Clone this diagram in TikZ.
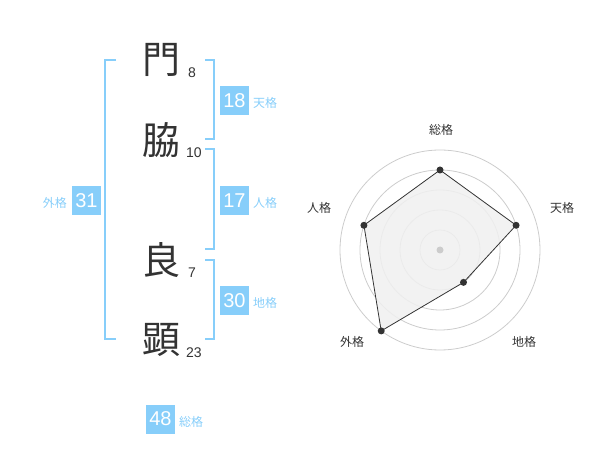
\documentclass[tikz,border=0pt]{standalone}
\usepackage{fontspec}
\setmainfont{Liberation Sans}
\newfontfamily\cjk{Noto Sans CJK JP}
\definecolor{sky}{HTML}{87CEFA}
\definecolor{ink}{HTML}{333333}
\definecolor{ring}{HTML}{CCCCCC}
\definecolor{area}{HTML}{F0F0F0}
\begin{document}
\begin{tikzpicture}[x=1pt,y=-1pt,
  bigchar/.style={font=\cjk\fontsize{38}{40}\selectfont, text=ink, inner sep=0pt},
  stroke/.style={font=\fontsize{14}{16}\selectfont, text=ink, inner sep=0pt, anchor=base west},
  numbox/.style={fill=sky, text=white, minimum width=29pt, minimum height=29pt, inner sep=0pt, font=\fontsize{20}{22}\selectfont},
  kaku/.style={font=\cjk\fontsize{12}{14}\selectfont, text=sky, inner sep=0pt},
  axislabel/.style={font=\cjk\fontsize{12}{14}\selectfont, text=ink, inner sep=0pt},
  bracket/.style={draw=sky, line width=2pt},
  dot/.style={circle, fill=ink, inner sep=0pt, minimum size=7pt}]
\useasboundingbox (0,0) rectangle (600,470);
% characters
\node[bigchar] (c1) at (161,60) {門};
\node[bigchar] (c2) at (161,140) {脇};
\node[bigchar] (c3) at (161,260) {良};
\node[bigchar] (c4) at (161,340) {顕};
\node[stroke] (s1) at (188,78) {8};
\node[stroke] (s2) at (186,158) {10};
\node[stroke] (s3) at (188,278) {7};
\node[stroke] (s4) at (186,358) {23};
% brackets
\coordinate (la) at (116,60); \coordinate (lb) at (116,339);
\draw[bracket] (la) -- ++(-11,0) |- (lb);
\coordinate (r1a) at (205,60); \coordinate (r1b) at (205,139);
\draw[bracket] (r1a) -- ++(9,0) |- (r1b);
\coordinate (r2a) at (205,149); \coordinate (r2b) at (205,249);
\draw[bracket] (r2a) -- ++(9,0) |- (r2b);
\coordinate (r3a) at (205,260); \coordinate (r3b) at (205,339);
\draw[bracket] (r3a) -- ++(9,0) |- (r3b);
% boxes
\node[numbox] (b18) at (234.5,100.5) {18};
\node[kaku, anchor=west] (k18) at (253,103) {天格};
\node[numbox] (b17) at (234.5,200.5) {17};
\node[kaku, anchor=west] (k17) at (253,203) {人格};
\node[numbox] (b30) at (234.5,300.5) {30};
\node[kaku, anchor=west] (k30) at (253,303) {地格};
\node[numbox] (b31) at (86.5,200.5) {31};
\node[kaku, anchor=east] (k31) at (67,203) {外格};
\node[numbox] (b48) at (160.5,419) {48};
\node[kaku, anchor=west] (k48) at (179,422) {総格};
% radar
\coordinate (o) at (440,250);
\foreach \r in {20,40,60,80,100} \draw[ring, line width=0.8pt] (o) circle[radius=\r];
\coordinate (p1) at (440,170);
\coordinate (p2) at (516.08,225.28);
\coordinate (p3) at (463.51,282.36);
\coordinate (p4) at (381.22,330.90);
\coordinate (p5) at (363.92,225.28);
\fill[area, opacity=0.85] (p1) -- (p2) -- (p3) -- (p4) -- (p5) -- cycle;
\draw[ink, line width=0.8pt] (p1) -- (p2) -- (p3) -- (p4) -- (p5) -- cycle;
\foreach \p in {p1,p2,p3,p4,p5} \node[dot] at (\p) {};
\node[circle, fill=ring, inner sep=0pt, minimum size=7pt] (oc) at (o) {};
\node[axislabel] (a1) at (441,130) {総格};
\node[axislabel] (a2) at (562,208) {天格};
\node[axislabel] (a3) at (524,342) {地格};
\node[axislabel] (a4) at (352,342) {外格};
\node[axislabel] (a5) at (319,208) {人格};
\end{tikzpicture}
\end{document}
